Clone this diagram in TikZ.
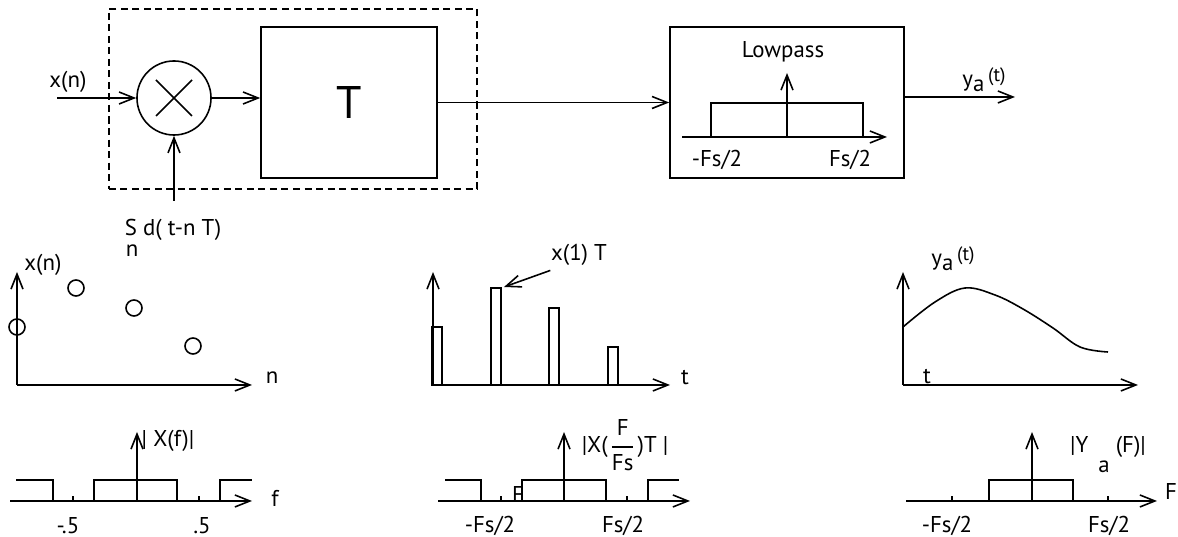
\documentclass[tikz,border=0pt]{standalone}
\usepackage{fontspec}
\setmainfont{PT Sans}
\usepackage{tikz}
\usetikzlibrary{arrows.meta,positioning,calc}

\begin{document}
\begin{tikzpicture}[
    x=0.01cm, y=-0.01cm,
    line width=0.45pt,
    font=\fontsize{6.5}{7.5}\selectfont,
    block/.style={rectangle, draw, minimum width=1.76cm, minimum height=1.51cm},
    arrow/.style={-{Straight Barb[length=1.5mm,width=1.2mm]}},
    label/.style={inner sep=0pt}
]
\useasboundingbox (0,0) rectangle (1178,537);

% sampler: multiplier and hold block
\node[draw, dash pattern=on 0.7mm off 0.45mm, minimum width=3.68cm, minimum height=1.80cm] (sampler) at (293,99) {};
\node[draw, circle, minimum size=0.74cm, inner sep=0pt] (mult) at (174,98) {};
\draw ([shift={(-18,-18)}]mult.center) -- ([shift={(18,18)}]mult.center)
      ([shift={(-18,18)}]mult.center) -- ([shift={(18,-18)}]mult.center);
\node[block, font=\fontsize{13}{15}\selectfont] (tblock) at (349,102.5) {T};
\node[block, minimum width=2.34cm] (lowpass) at (787,102.5) {};

% lowpass response inside the box
\coordinate (lpo) at (787,137);
\draw[arrow] (682,137) -- (887,137);
\draw (711,137) |- (863,103) -- (863,137);
\draw[arrow] (lpo) -- (787,73);
\node[label] (lptitle) at (783,52) {Lowpass};
\node[label] (lpneg) at (717,160) {-Fs/2};
\node[label] (lppos) at (850,160) {Fs/2};

% signal path
\coordinate (xin) at (57,98);
\coordinate (yout) at (1015,97);
\coordinate (imp) at (174,201);
\node[label] (xlabel) at (68,82) {x(n)};
\node[label] (ylabel) at (984,80) {y\raisebox{-0.5ex}{a}\,\raisebox{0.4ex}{\fontsize{5.5}{6}\selectfont(t)}};
\node[label, anchor=base west] (implabel) at (124,236) {S d( t-n T)};
\node[label, anchor=base west] (implabeln) at (125,257) {n};
\draw[arrow] (xin) -- (mult.west);
\draw[arrow] (mult.east) -- (mult.east -| tblock.west);
\draw[arrow] (tblock.east) -- (lowpass.west);
\draw[arrow] (lowpass.east |- yout) -- (yout);
\draw[arrow] (imp) -- (mult.south);

% x(n) samples
\coordinate (o1) at (17,385);
\draw[arrow] (o1) -- (17,272);
\draw[arrow] (o1) -- (252,385);
\foreach \xa/\ya in {17/327, 76/288, 134/308, 193/346}
    \draw (\xa,\ya) circle [radius=0.08cm];
\node[label] (xnlabel) at (43,265) {x(n)};
\node[label] (nlabel) at (272,378) {n};

% pulse train
\coordinate (o2) at (433,385);
\draw[arrow] (o2) -- (433,272);
\draw[arrow] (o2) -- (670,385);
\foreach \xa/\ya in {432/327, 491/288, 549/308, 608/347}
    \draw (\xa,385) rectangle ({\xa+10},\ya);
\node[label] (pulselabel) at (579,255) {x(1) T};
\coordinate (pulsetop) at (504,287);
\draw[arrow] (pulselabel.south west) ++(0,4) -- (pulsetop);
\node[label] (tlabel) at (685,378) {t};

% reconstructed output
\coordinate (o3) at (903,385);
\draw[arrow] (o3) -- (903,272);
\draw[arrow] (o3) -- (1138,385);
\draw plot[smooth, tension=0.6] coordinates {(903,327) (935,302) (965,288) (995,295) (1023,309) (1053,328) (1080,347) (1108,352)};
\node[label] (yalabel) at (953,259) {y\raisebox{-0.5ex}{a}\,\raisebox{0.4ex}{\fontsize{5.5}{6}\selectfont(t)}};
\node[label] (t2label) at (927,377) {t};

% spectrum of x(n)
\draw[arrow] (10,501) -- (252,501);
\draw[arrow] (137,501) -- (137,432);
\draw (16,480) -- (53,480) -- (53,501);
\draw (94,501) |- (177,480) -- (177,501);
\draw (220,501) |- (252,480);
\foreach \xa in {73,199} \draw (\xa,501) -- (\xa,496);
\node[label] (xflabel) at (168,441) {| X(f)|};
\node[label] (flabel) at (275,498) {f};
\node[label] (fneg) at (68,526) {-.5};
\node[label] (fpos) at (202,526) {.5};

% spectrum of pulse train
\draw[arrow] (438,501) -- (690,501);
\draw[arrow] (564,501) -- (564,432);
\draw (445,480) -- (481,480) -- (481,501);
\draw (522,501) |- (606,480) -- (606,501);
\draw (648,501) |- (679,480);
\foreach \xa in {501,627} \draw (\xa,501) -- (\xa,496);
\node[label] (xFlabel) at (625,445) {|X(\(\displaystyle\frac{\mbox{F}}{\mbox{Fs}}\))T |};
\node[label] (Fsmall) at (518,495) {F};
\node[label] (Fneg) at (490,526) {-Fs/2};
\node[label] (Fpos) at (623,526) {Fs/2};

% spectrum of output
\draw[arrow] (906,501) -- (1157,501);
\draw[arrow] (1032,501) -- (1032,432);
\draw (989,501) |- (1073,480) -- (1073,501);
\foreach \xa in {952,1108} \draw (\xa,501) -- (\xa,496);
\node[label] (yFlabel) at (1108,447) {|Y\hspace{1.2em}(F)|};
\node[label] (yFsub) at (1104,467) {a};
\node[label] (Flabel) at (1171,492) {F};
\node[label] (Fneg2) at (947,526) {-Fs/2};
\node[label] (Fpos2) at (1109,526) {Fs/2};
\end{tikzpicture}
\end{document}
